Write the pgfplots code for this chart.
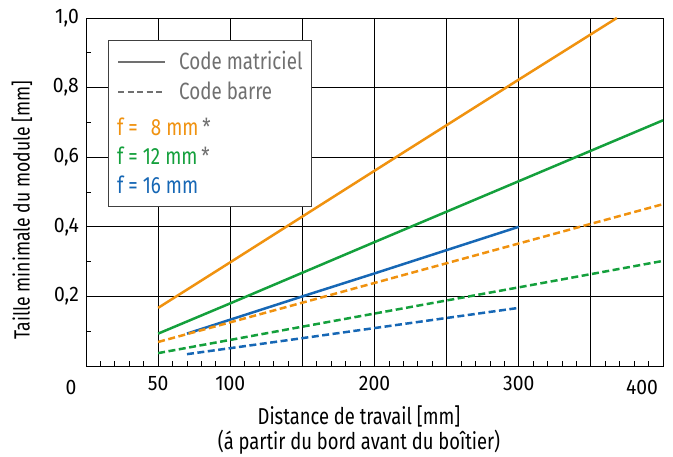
\documentclass[border=0pt]{standalone}
\usepackage{pgfplots}
\pgfplotsset{compat=1.18}
\usepackage{fontspec}
\setmainfont{Fira Sans}[FakeStretch=0.8]
\newfontfamily\tickfont{Fira Sans}[FakeStretch=0.92]

\definecolor{orng}{HTML}{F0920F}
\definecolor{grn}{HTML}{14A03C}
\definecolor{blu}{HTML}{1667B5}
\definecolor{lgray}{HTML}{707070}

\begin{document}
\fontsize{21bp}{24bp}\selectfont
\begin{tikzpicture}[x=1bp,y=1bp]
\path[use as bounding box] (-86,-91) rectangle (587,366);
\begin{axis}[
    at={(0,0)}, anchor=south west,
    scale only axis,
    width=577bp, height=348bp,
    xmin=0, xmax=400,
    ymin=0, ymax=1,
    xtick={0,50,...,400},
    xticklabels={,50,100,,200,,300,,},
    minor xtick={10,20,...,390},
    ytick={0.2,0.4,0.6,0.8,1.0},
    minor ytick={0.1,0.3,0.5,0.7,0.9},
    tick pos=left,
    grid=major,
    major grid style={black, line width=0.9bp},
    major tick length=0pt,
    minor tick length=5bp,
    tick style={black, line width=0.8bp},
    axis line style={black, line width=0.9bp},
    ticklabel style={font=\tickfont},
    /pgf/number format/assume math mode=true,
    yticklabel style={/pgf/number format/.cd, fixed, fixed zerofill, precision=1, use comma},
    xticklabel style={yshift=-3bp},
    clip=false,
]
% Code matriciel (solid)
\addplot[orng, line width=2.5bp] coordinates {(50,0.167) (100,0.298) (200,0.561) (300,0.823) (368,1.0)};
\addplot[grn, line width=2.5bp] coordinates {(50,0.093) (100,0.180) (200,0.356) (300,0.531) (400,0.706)};
\addplot[blu, line width=2.5bp] coordinates {(70,0.093) (150,0.200) (200,0.266) (300,0.400)};
% Code barre (dashed)
\addplot[orng, line width=2.5bp, dash pattern=on 7bp off 3.5bp] coordinates {(50,0.069) (150,0.182) (300,0.352) (400,0.465)};
\addplot[grn, line width=2.5bp, dash pattern=on 7bp off 3.5bp] coordinates {(50,0.037) (150,0.113) (300,0.226) (400,0.302)};
\addplot[blu, line width=2.5bp, dash pattern=on 7bp off 3.5bp] coordinates {(70,0.034) (150,0.080) (300,0.167)};
\end{axis}

% axis texts
\node[font=\tickfont] at (-15,-21) {0};
\node[font=\tickfont] at (556,-21) {400};
\node[font=\fontsize{23bp}{26bp}\selectfont] at (273,-50) {Distance de travail [mm]};
\node[font=\fontsize{23bp}{26bp}\selectfont] at (273,-76) {(á partir du bord avant du boîtier)};
\node[rotate=90, font=\fontsize{22bp}{26bp}\selectfont] at (-64,156) {Taille minimale du module [mm]};

% legend
\draw[draw=black!75, line width=0.9bp, fill=white] (22,326) rectangle (225,160);
\draw[lgray, line width=2.6bp] (32,304) -- (79,304);
\draw[lgray, line width=2.6bp, dash pattern=on 6bp off 3.5bp] (32,274) -- (79,274);
\begin{scope}[every node/.style={anchor=base west, inner sep=0pt, font=\fontsize{23.5bp}{26bp}\selectfont}]
\node[lgray] at (93,296) {Code matriciel};
\node[lgray] at (93,266) {Code barre};
\node[orng] at (31,230) {f =\hphantom{1} 8 mm\,\textcolor{lgray}{*}};
\node[grn] at (31,201) {f = 12 mm\,\textcolor{lgray}{*}};
\node[blu] at (31,172) {f = 16 mm};
\end{scope}
\end{tikzpicture}
\end{document}
